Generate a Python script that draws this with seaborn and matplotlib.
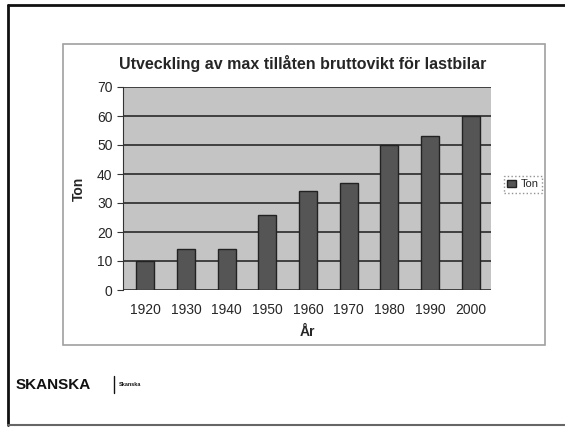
import matplotlib
matplotlib.use("Agg")
import matplotlib.pyplot as plt
import matplotlib.patches as mpatches
import seaborn as sns
import pandas as pd

# data
years = ["1920", "1930", "1940", "1950", "1960", "1970", "1980", "1990", "2000"]
ton = [10, 14, 14, 26, 34, 37, 50, 53, 60]
df = pd.DataFrame({"År": years, "Ton": ton})

sns.set_style("white")
plt.rcParams["font.family"] = ["Liberation Sans", "DejaVu Sans"]

fig = plt.figure(figsize=(5.65, 4.28), dpi=100)

# slide frame: dark top/left, grey bottom
fig.add_artist(plt.Line2D([8/565, 1.0], [1 - 5/428, 1 - 5/428], transform=fig.transFigure,
                          color="#111111", linewidth=2))
fig.add_artist(plt.Line2D([8/565, 8/565], [1 - 425/428, 1 - 5/428], transform=fig.transFigure,
                          color="#111111", linewidth=2))
fig.add_artist(plt.Line2D([8/565, 1.0], [1 - 425/428, 1 - 425/428], transform=fig.transFigure,
                          color="#666666", linewidth=1.5))
# chart frame
fig.add_artist(mpatches.Rectangle((63/565, 1 - 345/428), (545 - 63)/565, (345 - 44)/428,
                                  transform=fig.transFigure, fill=False,
                                  edgecolor="#a0a0a0", linewidth=1.2))

ax = fig.add_axes([123/565, 1 - 290/428, (491 - 123)/565, (290 - 87)/428])
ax.set_facecolor("#c4c4c4")
sns.barplot(data=df, x="År", y="Ton", color="#555555", width=0.44,
            edgecolor="#222222", linewidth=1, ax=ax, label="Ton", zorder=3)

ax.set_ylim(0, 70)
ax.set_yticks(range(0, 71, 10))
ax.set_xlim(-0.55, 8.5)
ax.yaxis.grid(True, color="#2a2a2a", linewidth=1.2, zorder=1)
ax.set_axisbelow(True)
for side in ["top", "right", "bottom"]:
    ax.spines[side].set_visible(False)
ax.spines["left"].set_color("#333333")
ax.tick_params(axis="y", length=4, color="#333333", labelsize=10, left=True)
ax.tick_params(axis="x", length=0, labelsize=10, pad=9)
ax.set_xlabel("År", fontsize=10, fontweight="bold", labelpad=6)
ax.set_ylabel("Ton", fontsize=10, fontweight="bold", labelpad=8)

fig.text(303/565, 1 - 63/428, "Utveckling av max tillåten bruttovikt för lastbilar",
         ha="center", va="center", fontsize=11.5, fontweight="bold")

leg = ax.legend(loc="center left", bbox_to_anchor=(1.02, 0.52), fontsize=8,
                handlelength=0.8, handletextpad=0.4, borderpad=0.3,
                frameon=True, fancybox=False)
leg.get_frame().set_edgecolor("#777777")
leg.get_frame().set_linestyle(":")

fig.text(16/565, 1 - 385/428, "SKANSKA", fontsize=11, fontweight="bold",
         ha="left", va="center", color="#111111")
fig.add_artist(plt.Line2D([114/565, 114/565], [1 - 393/428, 1 - 376/428],
                          transform=fig.transFigure, color="#111111", linewidth=1))
fig.text(119/565, 1 - 385/428, "Skanska", fontsize=4, fontweight="bold",
         ha="left", va="center", color="#111111")

fig.savefig("out.png", dpi=100)
